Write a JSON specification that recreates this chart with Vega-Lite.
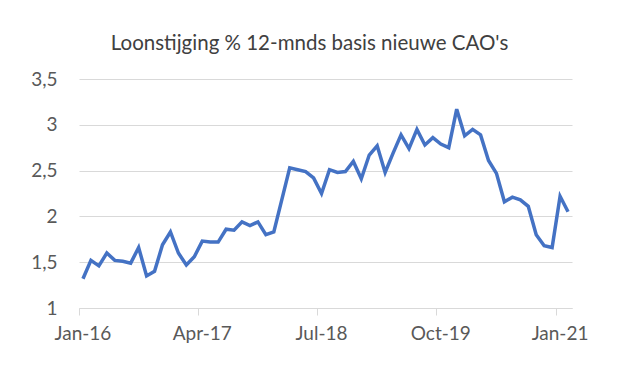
{
  "$schema": "https://vega.github.io/schema/vega-lite/v6.json",
  "width": 493,
  "height": 229,
  "autosize": {"type": "none"},
  "padding": {"left": 79, "top": 79, "right": 53, "bottom": 57},
  "background": "white",
  "config": {"view": {"stroke": null}, "font": "Lato"},
  "title": {
    "text": "Loonstijging % 12-mnds basis nieuwe CAO's",
    "fontSize": 20.5,
    "fontWeight": "normal",
    "color": "#404040",
    "font": "Lato",
    "anchor": "middle",
    "dx": -16,
    "offset": 16
  },
  "data": {
    "values": [
      {"month": "Jan-16", "value": 1.32},
      {"month": "Feb-16", "value": 1.52},
      {"month": "Mar-16", "value": 1.46},
      {"month": "Apr-16", "value": 1.60},
      {"month": "May-16", "value": 1.52},
      {"month": "Jun-16", "value": 1.51},
      {"month": "Jul-16", "value": 1.49},
      {"month": "Aug-16", "value": 1.66},
      {"month": "Sep-16", "value": 1.35},
      {"month": "Oct-16", "value": 1.40},
      {"month": "Nov-16", "value": 1.69},
      {"month": "Dec-16", "value": 1.83},
      {"month": "Jan-17", "value": 1.60},
      {"month": "Feb-17", "value": 1.47},
      {"month": "Mar-17", "value": 1.56},
      {"month": "Apr-17", "value": 1.73},
      {"month": "May-17", "value": 1.72},
      {"month": "Jun-17", "value": 1.72},
      {"month": "Jul-17", "value": 1.86},
      {"month": "Aug-17", "value": 1.85},
      {"month": "Sep-17", "value": 1.94},
      {"month": "Oct-17", "value": 1.90},
      {"month": "Nov-17", "value": 1.94},
      {"month": "Dec-17", "value": 1.80},
      {"month": "Jan-18", "value": 1.83},
      {"month": "Feb-18", "value": 2.18},
      {"month": "Mar-18", "value": 2.53},
      {"month": "Apr-18", "value": 2.51},
      {"month": "May-18", "value": 2.49},
      {"month": "Jun-18", "value": 2.42},
      {"month": "Jul-18", "value": 2.25},
      {"month": "Aug-18", "value": 2.51},
      {"month": "Sep-18", "value": 2.48},
      {"month": "Oct-18", "value": 2.49},
      {"month": "Nov-18", "value": 2.60},
      {"month": "Dec-18", "value": 2.41},
      {"month": "Jan-19", "value": 2.67},
      {"month": "Feb-19", "value": 2.77},
      {"month": "Mar-19", "value": 2.48},
      {"month": "Apr-19", "value": 2.69},
      {"month": "May-19", "value": 2.89},
      {"month": "Jun-19", "value": 2.74},
      {"month": "Jul-19", "value": 2.95},
      {"month": "Aug-19", "value": 2.78},
      {"month": "Sep-19", "value": 2.86},
      {"month": "Oct-19", "value": 2.79},
      {"month": "Nov-19", "value": 2.75},
      {"month": "Dec-19", "value": 3.17},
      {"month": "Jan-20", "value": 2.88},
      {"month": "Feb-20", "value": 2.95},
      {"month": "Mar-20", "value": 2.89},
      {"month": "Apr-20", "value": 2.61},
      {"month": "May-20", "value": 2.47},
      {"month": "Jun-20", "value": 2.16},
      {"month": "Jul-20", "value": 2.21},
      {"month": "Aug-20", "value": 2.18},
      {"month": "Sep-20", "value": 2.11},
      {"month": "Oct-20", "value": 1.80},
      {"month": "Nov-20", "value": 1.68},
      {"month": "Dec-20", "value": 1.66},
      {"month": "Jan-21", "value": 2.22},
      {"month": "Feb-21", "value": 2.05}
    ]
  },
  "mark": {"type": "line", "color": "#4472C4", "strokeWidth": 3.5, "strokeJoin": "miter", "strokeCap": "butt"},
  "encoding": {
    "x": {
      "field": "month",
      "type": "ordinal",
      "sort": null,
      "scale": {"type": "band", "paddingInner": 0, "paddingOuter": 0},
      "axis": {
        "title": null,
        "values": ["Jan-16", "Apr-17", "Jul-18", "Oct-19", "Jan-21"],
        "bandPosition": 0,
        "labelAngle": 0,
        "labelFontSize": 19,
        "labelColor": "#595959",
        "labelPadding": 9,
        "tickSize": 7,
        "tickColor": "#d9d9d9",
        "domainColor": "#d9d9d9",
        "domainWidth": 1,
        "grid": false,
        "labelFont": "Lato"
      }
    },
    "y": {
      "field": "value",
      "type": "quantitative",
      "scale": {"domain": [1, 3.5], "nice": false, "zero": false},
      "axis": {
        "title": null,
        "values": [1, 1.5, 2, 2.5, 3, 3.5],
        "labelExpr": "replace(toString(datum.value), '.', ',')",
        "labelFontSize": 19,
        "labelColor": "#595959",
        "labelPadding": 22,
        "ticks": false,
        "domain": false,
        "grid": true,
        "gridColor": "#d9d9d9",
        "gridWidth": 1,
        "labelFont": "Lato"
      }
    }
  }
}
